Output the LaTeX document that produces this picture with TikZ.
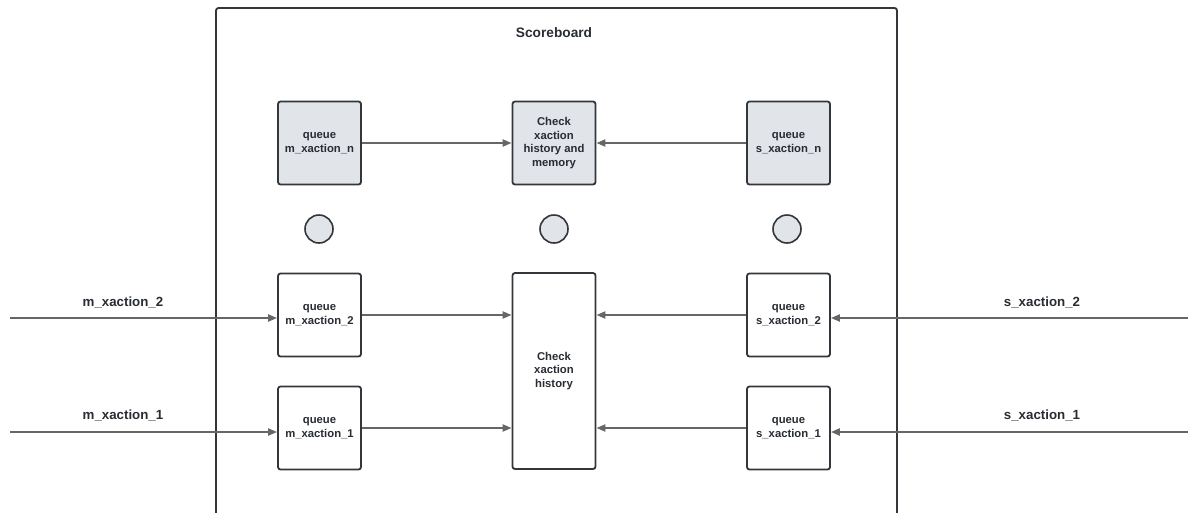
\documentclass[tikz,border=0pt]{standalone}
\usepackage{fontspec}
\setmainfont{Liberation Sans}
\usetikzlibrary{arrows.meta}
\definecolor{edgeC}{HTML}{33363B}
\definecolor{arrowC}{HTML}{666666}
\definecolor{fillC}{HTML}{E1E4E9}
\definecolor{textC}{HTML}{282C33}
\begin{document}
\begin{tikzpicture}[x=1pt,y=-1pt,
  frame/.style={draw=edgeC,line width=1.8pt,rounded corners=2.5pt},
  qbox/.style={draw=edgeC,line width=1.8pt,rounded corners=2.5pt,fill=white,
    minimum width=83pt,minimum height=83pt,inner sep=0pt,align=center,
    font=\fontsize{11.3}{13.5}\selectfont\bfseries,text=textC},
  gbox/.style={qbox,fill=fillC},
  dot/.style={circle,draw=edgeC,line width=1.6pt,fill=fillC,minimum size=28pt,inner sep=0pt},
  flow/.style={draw=arrowC,line width=2pt,-{Triangle[length=9pt,width=7pt]}},
  lbl/.style={font=\fontsize{13.3}{16}\selectfont\bfseries,text=textC}]
\useasboundingbox (0,0) rectangle (1188,512);

% scoreboard frame, open at the bottom
\draw[frame] (216,520) -- (216,8) -- (897,8) -- (897,520);
\node[lbl,font=\fontsize{13.7}{16}\selectfont\bfseries] (title) at (554,33) {Scoreboard};

% top row
\node[gbox] (mn) at (319.5,143) {queue\\m\_xaction\_n};
\node[gbox] (chk) at (554,143) {Check\\xaction\\history and\\memory};
\node[gbox] (sn) at (788.5,143) {queue\\s\_xaction\_n};

% ellipsis dots
\node[dot] (d1) at (319,229) {};
\node[dot] (d2) at (554,229) {};
\node[dot] (d3) at (787,229) {};

% lower queues and history checker
\node[qbox] (m2) at (319.5,315) {queue\\m\_xaction\_2};
\node[qbox] (m1) at (319.5,428) {queue\\m\_xaction\_1};
\node[qbox] (s2) at (788.5,315) {queue\\s\_xaction\_2};
\node[qbox] (s1) at (788.5,428) {queue\\s\_xaction\_1};
\node[qbox,minimum height=196pt] (hist) at (554,371) {Check\\xaction\\history};

% top row connections
\draw[flow] (mn.east) -- (chk.west);
\draw[flow] (sn.west) -- (chk.east);

% queues into the history checker
\draw[flow] (m2.east) -- (m2.east -| hist.west);
\draw[flow] (m1.east) -- (m1.east -| hist.west);
\draw[flow] (s2.west) -- (s2.west -| hist.east);
\draw[flow] (s1.west) -- (s1.west -| hist.east);

% external inputs
\coordinate (inm2) at (10,318);
\coordinate (inm1) at (10,432);
\coordinate (ins2) at (1188,318);
\coordinate (ins1) at (1188,432);
\draw[flow] (inm2) -- (inm2 -| m2.west);
\draw[flow] (inm1) -- (inm1 -| m1.west);
\draw[flow] (ins2) -- (ins2 -| s2.east);
\draw[flow] (ins1) -- (ins1 -| s1.east);
\node[lbl] (lm2) at (123,302) {m\_xaction\_2};
\node[lbl] (lm1) at (123,415) {m\_xaction\_1};
\node[lbl] (ls2) at (1042,302) {s\_xaction\_2};
\node[lbl] (ls1) at (1042,415) {s\_xaction\_1};
\end{tikzpicture}
\end{document}
